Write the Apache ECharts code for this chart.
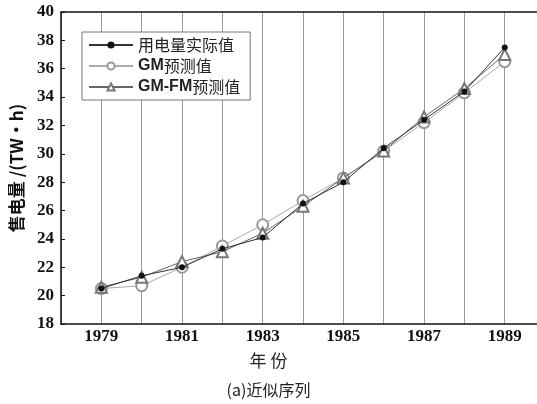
<!DOCTYPE html>
<html><head><meta charset="utf-8">
<script src="https://cdn.jsdelivr.net/npm/echarts@6/dist/echarts.min.js"></script>
<style>html,body{margin:0;padding:0;background:#fff}#c{width:537px;height:404px}</style>
</head><body><div id="c"></div>
<script>
const years = [1979,1980,1981,1982,1983,1984,1985,1986,1987,1988,1989];
const actual = [20.5,21.4,22.0,23.3,24.1,26.5,28.0,30.4,32.4,34.4,37.5];
const gm = [20.5,20.7,22.0,23.5,25.0,26.7,28.3,30.2,32.2,34.3,36.5];
const gmfm = [20.6,21.3,22.4,23.1,24.4,26.3,28.3,30.2,32.6,34.6,37.0];
const seriesNames = ['用电量实际值','GM预测值','GM-FM预测值'];
const xTickYears = [1979,1981,1983,1985,1987,1989];

const pair = arr => years.map((y,i)=>[y,arr[i]]);
const chart = echarts.init(document.getElementById('c'));
const tickFont = {fontFamily:'Liberation Serif', fontWeight:'bold', fontSize:17, color:'#111'};
chart.setOption({
  animation:false,
  backgroundColor:'#fff',
  graphic:[
    {type:'text', left:'center', top:352, style:{text:'年 份', font:'17px "Noto Sans CJK SC"', fill:'#222'}},
    {type:'text', left:'center', top:382, style:{text:'(a)近似序列', font:'16px "Noto Sans CJK SC"', fill:'#222'}}
  ],
  grid:{left:57, top:12, right:0, bottom:80},
  legend:{
    orient:'vertical', left:82, top:32, padding:[5,10,5,6], itemGap:5,
    itemWidth:44, itemHeight:9,
    borderColor:'#777', borderWidth:1, backgroundColor:'#fff',
    formatter: n => n.replace(/^([A-Z\-]+)/, '{b|$1}'),
    textStyle:{fontFamily:'Noto Sans CJK SC', fontSize:16, color:'#222',
      rich:{b:{fontFamily:'Liberation Sans', fontWeight:'bold', fontSize:16, color:'#222'}}},
    data:seriesNames
  },
  xAxis:[{
    type:'value', min:1978, max:1989.8, interval:1,
    axisLine:{show:true, lineStyle:{color:'#111', width:1.5}},
    axisTick:{show:false},
    splitLine:{show:true, lineStyle:{color:'#999', width:1}},
    axisLabel:{...tickFont, margin:4, showMinLabel:false, showMaxLabel:false,
      formatter:v=> xTickYears.includes(v) ? String(v) : ''}
  },{
    type:'value', position:'top', min:1978, max:1989.8,
    axisLine:{show:true, lineStyle:{color:'#111', width:1.5}},
    axisTick:{show:false}, axisLabel:{show:false}, splitLine:{show:false}
  }],
  yAxis:{
    type:'value', min:18, max:40, interval:2,
    name:'售电量 /(TW·h)', nameLocation:'middle', nameGap:36, nameRotate:90,
    nameTextStyle:{fontFamily:'Noto Sans CJK SC', fontWeight:'bold', fontSize:17, color:'#111'},
    axisLine:{show:true, lineStyle:{color:'#111', width:1.5}},
    axisTick:{show:true, inside:true, length:4, lineStyle:{color:'#111'}},
    splitLine:{show:false},
    axisLabel:{...tickFont, margin:7}
  },
  series:[
    {name:seriesNames[0], type:'line', data:pair(actual), symbol:'circle', symbolSize:6,
     itemStyle:{color:'#111'}, lineStyle:{color:'#333', width:1}, z:5},
    {name:seriesNames[1], type:'line', data:pair(gm), symbol:'emptyCircle', symbolSize:11,
     itemStyle:{color:'#999', borderColor:'#888', borderWidth:1}, lineStyle:{color:'#aaa', width:1}, z:3},
    {name:seriesNames[2], type:'line', data:pair(gmfm), symbol:'emptyTriangle', symbolSize:11,
     itemStyle:{color:'#777', borderColor:'#666', borderWidth:1}, lineStyle:{color:'#666', width:1}, z:4}
  ]
});
</script></body></html>
